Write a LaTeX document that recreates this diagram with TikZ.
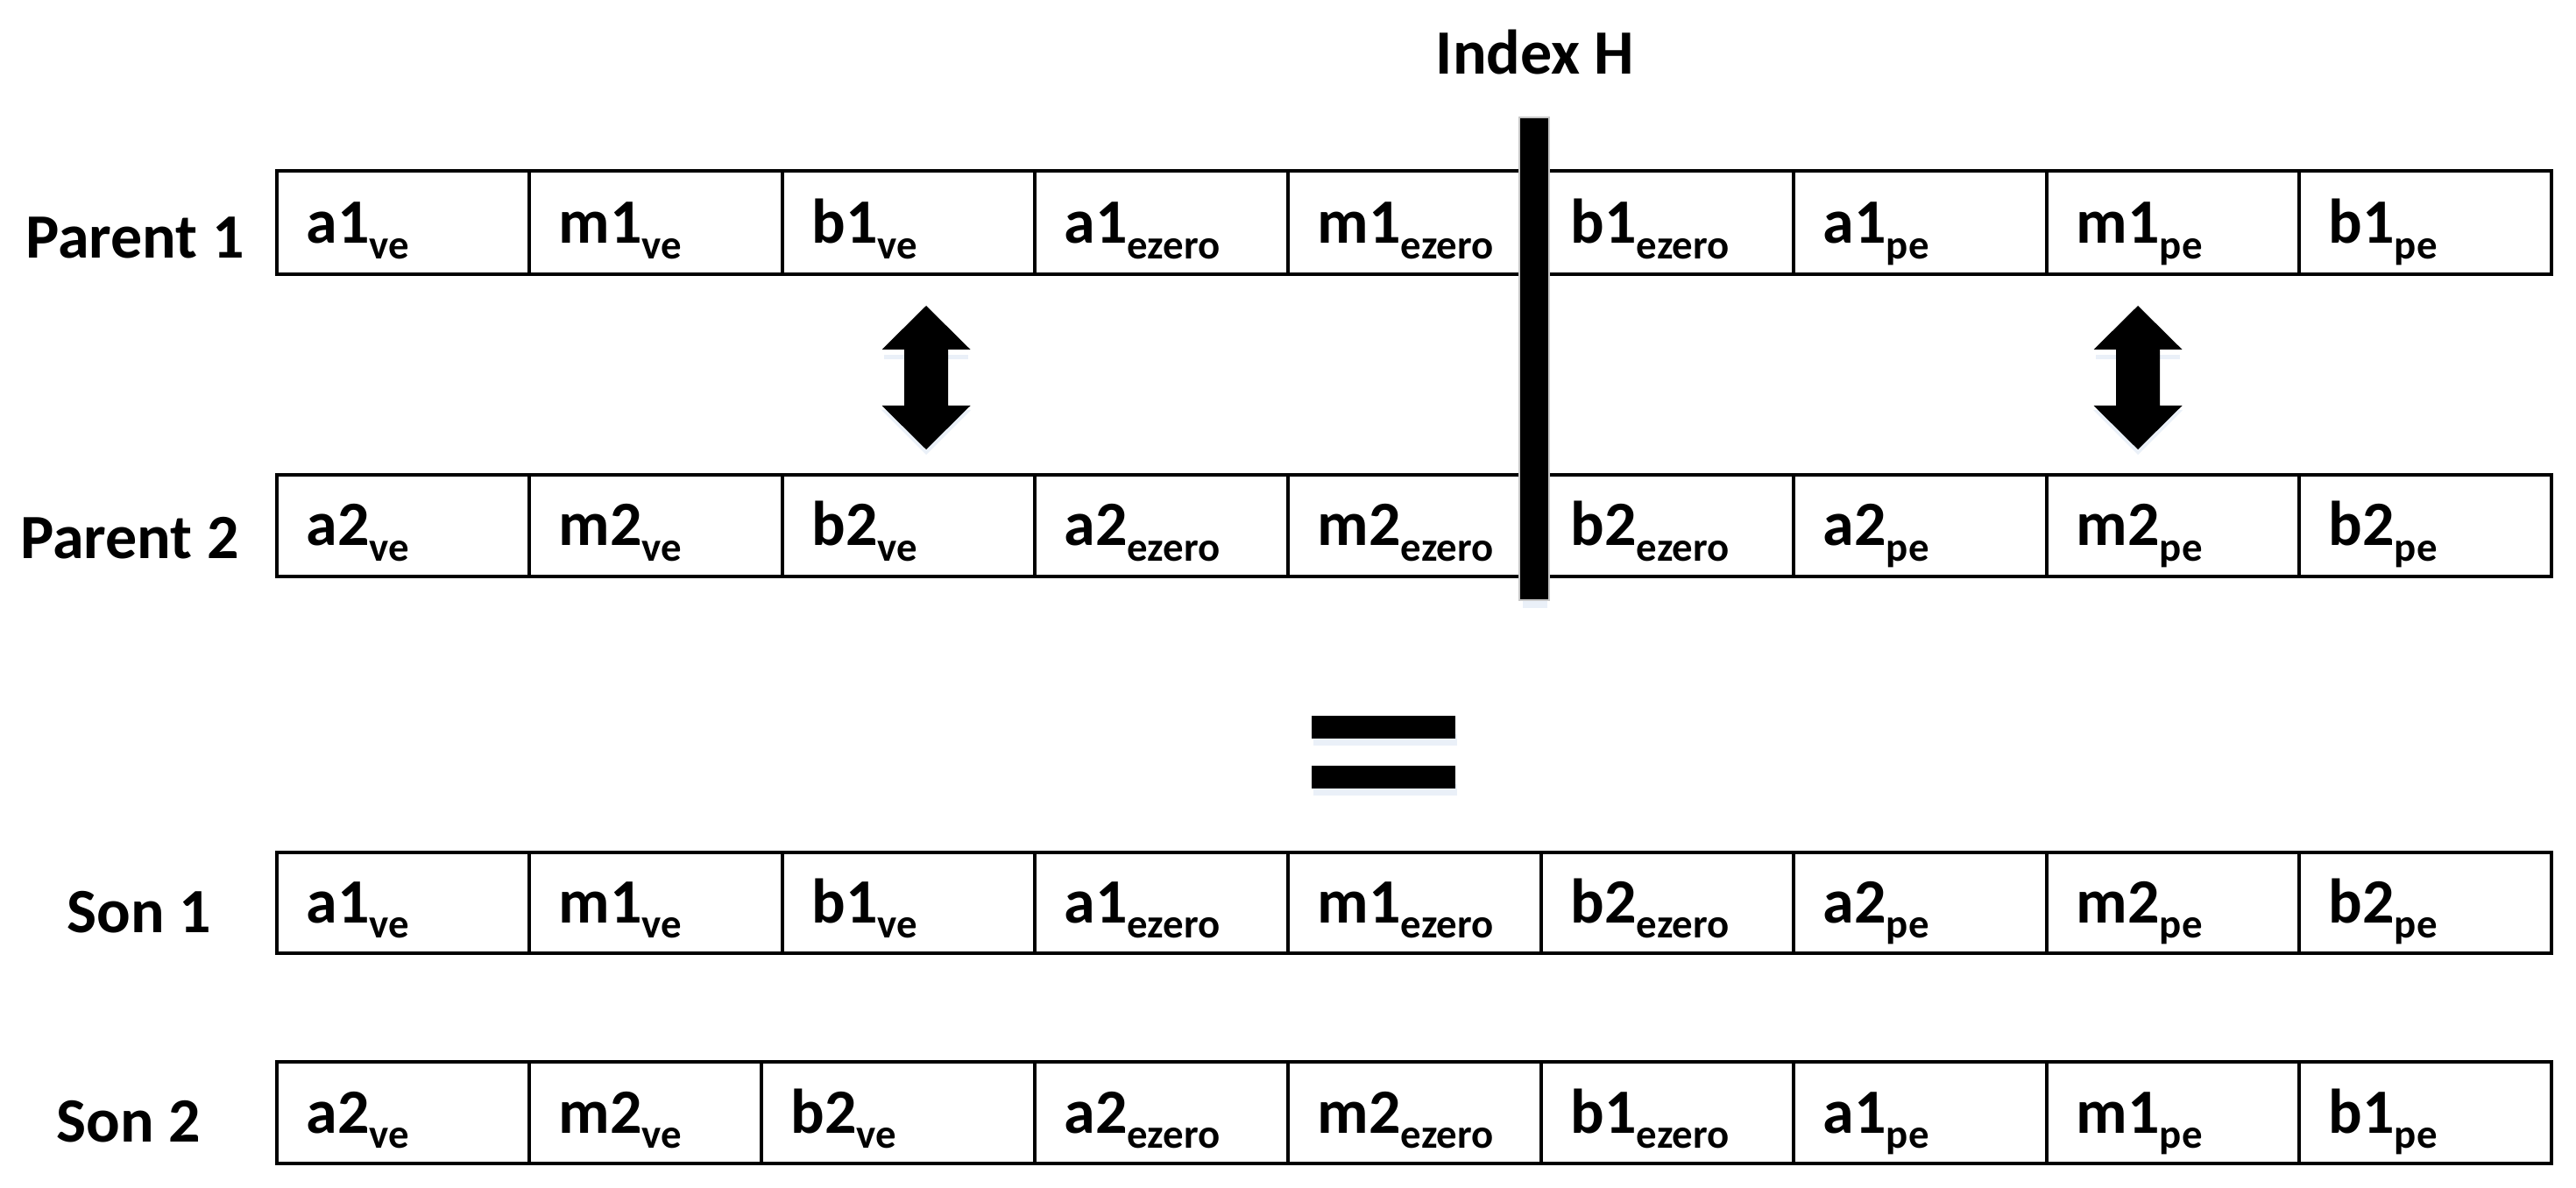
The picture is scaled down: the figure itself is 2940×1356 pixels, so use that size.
\documentclass[tikz,border=0pt]{standalone}
\usepackage{fontspec}
\setmainfont{Carlito}
\usetikzlibrary{calc}
\definecolor{glow}{RGB}{234,240,248}
\newcommand{\sbs}[1]{\raisebox{-4.4pt}{\fontsize{11.7pt}{12pt}\selectfont #1}}
\tikzset{
  cellbox/.style={draw, line width=1.125pt, inner sep=0pt, outer sep=0pt, anchor=north west},
  celltxt/.style={anchor=base west, inner sep=0pt, font=\fontsize{18pt}{20pt}\selectfont\bfseries},
  rowlbl/.style={anchor=base, inner sep=0pt, font=\fontsize{18pt}{20pt}\selectfont\bfseries},
  blackshape/.style={fill=black, draw=none},
  glowshape/.style={fill=glow, draw=none},
}
\newcommand{\cellrow}[4]{%
  \foreach \xl/\xr/\tx [count=\i] in {#4} {
    \node[cellbox, minimum width={(\xr-\xl)*0.25pt}, minimum height={(#3-#2)*0.25pt}] (#1c\i) at (\xl,#2) {};
    \node[celltxt] (#1t\i) at ($(#1c\i.south west)+(33,-35)$) {\tx};
  }}
\begin{document}
\begin{tikzpicture}[x=0.25pt, y=-0.25pt]
\useasboundingbox (0,0) rectangle (2940,1356);
\fill[white] (0,0) rectangle (2940,1356);

% rows
\cellrow{pa}{195}{313}{316/604/a1\sbs{ve}, 604/893/m1\sbs{ve}, 893/1181/b1\sbs{ve}, 1181/1470/a1\sbs{ezero}, 1470/1759/m1\sbs{ezero}, 1759/2047/b1\sbs{ezero}, 2047/2336/a1\sbs{pe}, 2336/2624/m1\sbs{pe}, 2624/2912/b1\sbs{pe}}
\cellrow{pb}{542}{658}{316/604/a2\sbs{ve}, 604/893/m2\sbs{ve}, 893/1181/b2\sbs{ve}, 1181/1470/a2\sbs{ezero}, 1470/1759/m2\sbs{ezero}, 1759/2047/b2\sbs{ezero}, 2047/2336/a2\sbs{pe}, 2336/2624/m2\sbs{pe}, 2624/2912/b2\sbs{pe}}
\cellrow{sa}{973}{1088}{316/604/a1\sbs{ve}, 604/893/m1\sbs{ve}, 893/1181/b1\sbs{ve}, 1181/1470/a1\sbs{ezero}, 1470/1759/m1\sbs{ezero}, 1759/2047/b2\sbs{ezero}, 2047/2336/a2\sbs{pe}, 2336/2624/m2\sbs{pe}, 2624/2912/b2\sbs{pe}}
\cellrow{sb}{1212}{1328}{316/604/a2\sbs{ve}, 604/869/m2\sbs{ve}, 869/1181/b2\sbs{ve}, 1181/1470/a2\sbs{ezero}, 1470/1759/m2\sbs{ezero}, 1759/2047/b1\sbs{ezero}, 2047/2336/a1\sbs{pe}, 2336/2624/m1\sbs{pe}, 2624/2912/b1\sbs{pe}}

% row labels
\node[rowlbl] (lpa) at (154,295) {Parent 1};
\node[rowlbl] (lpb) at (148,638) {Parent 2};
\node[rowlbl] (lsa) at (159,1064) {Son 1};
\node[rowlbl] (lsb) at (147,1303) {Son 2};

% index bar
\node[rowlbl] (idx) at (1752,85) {Index H};
\fill[glowshape] (1738,660) rectangle (1766,694);
\node[fill=black, draw=black!22, line width=0.6pt, inner sep=0pt, outer sep=0pt,
      minimum width=8.4pt, minimum height=137.6pt] (bar) at (1751,409.5) {};

% swap arrows
\foreach \cx/\nm in {1057/arrl, 2440/arrr} {
  \fill[glowshape] (\cx-48,405) -- (\cx+48,405) -- (\cx+48,410) -- (\cx-48,410) -- cycle;
  \fill[glowshape] (\cx,519) -- (\cx+51,468) -- (\cx-51,468) -- cycle;
  \fill[blackshape] (\cx,349) -- (\cx+50.5,399) -- (\cx+25,399) -- (\cx+25,463) -- (\cx+50.5,463)
     -- (\cx,513) -- (\cx-50.5,463) -- (\cx-25,463) -- (\cx-25,399) -- (\cx-50.5,399) -- cycle;
  \coordinate (\nm) at (\cx,431);
}

% equals sign
\fill[glowshape] (1499,838) rectangle (1663,851);
\fill[glowshape] (1499,895) rectangle (1663,908);
\fill[blackshape] (1497,817) rectangle (1661,843);
\fill[blackshape] (1497,874) rectangle (1661,900);
\end{tikzpicture}
\end{document}
